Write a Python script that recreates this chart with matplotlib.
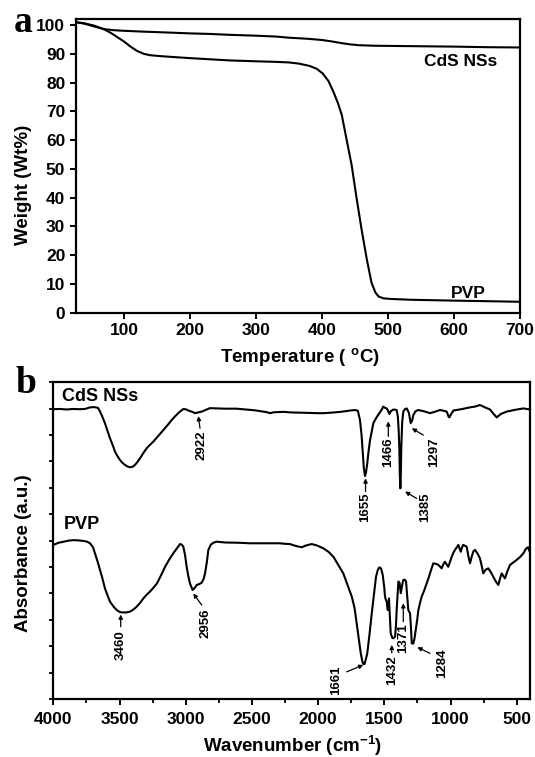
import matplotlib
matplotlib.use('Agg')
import matplotlib.pyplot as plt
from matplotlib.ticker import MultipleLocator, NullFormatter

plt.rcParams['font.family'] = ['Liberation Sans', 'DejaVu Sans']
plt.rcParams['mathtext.fontset'] = 'custom'
plt.rcParams['mathtext.rm'] = 'Liberation Sans'
plt.rcParams['mathtext.bf'] = 'Liberation Sans:bold'

# ---------------- TGA data (panel a) ----------------
tga_temp_cds = [27, 40, 55, 70, 85, 100, 130, 155, 200, 231, 260, 300, 330, 350,
                380, 400, 415, 430, 442, 455, 480, 520, 600, 650, 700]
tga_wt_cds = [101.0, 100.5, 99.5, 98.6, 98.2, 98.0, 97.7, 97.5, 97.1, 96.9, 96.6,
              96.3, 96.0, 95.6, 95.2, 94.8, 94.3, 93.7, 93.3, 93.0, 92.8, 92.7,
              92.5, 92.3, 92.2]

tga_temp_pvp = [27, 40, 55, 70, 80, 90, 100, 110, 120, 130, 140, 155, 180, 200, 230,
                260, 300, 330, 350, 365, 381, 392, 401, 410, 417, 424, 430, 437,
                445, 452, 460, 468, 475, 481, 486, 493, 503, 534, 600, 650, 700]
tga_wt_pvp = [101.0, 100.6, 99.8, 98.5, 97.3, 95.8, 94.3, 92.5, 91.0, 90.0, 89.5,
              89.2, 88.8, 88.5, 88.1, 87.7, 87.4, 87.2, 87.0, 86.6, 85.8, 84.8,
              83.2, 80.5, 77.0, 73.0, 68.8, 60.6, 51.3, 40.5, 29.0, 18.5, 10.5,
              7.0, 5.6, 5.0, 4.8, 4.5, 4.2, 4.0, 3.8]

tga_xticks = [100, 200, 300, 400, 500, 600, 700]
tga_yticks = [0, 10, 20, 30, 40, 50, 60, 70, 80, 90, 100]

# ---------------- FTIR data (panel b) ----------------
ftir_wn_cds = [4000, 3950, 3900, 3850, 3800, 3760, 3723, 3690, 3662, 3647, 3630, 3610,
               3590, 3572, 3550, 3534, 3515, 3497, 3478, 3459, 3440, 3421, 3400, 3383,
               3365, 3345, 3320, 3295, 3270, 3245, 3210, 3169, 3130, 3094, 3055, 3018,
               2995, 2980, 2950, 2930, 2905, 2879, 2850, 2817, 2750, 2700, 2615, 2550,
               2480, 2439, 2390, 2363, 2340, 2313, 2260, 2212, 2150, 2080, 2000, 1961,
               1900, 1830, 1759, 1720, 1700, 1684, 1672, 1663, 1655, 1646, 1638, 1629,
               1620, 1608, 1595, 1583, 1565, 1546, 1525, 1508, 1495, 1482, 1470, 1462,
               1452, 1432, 1420, 1407, 1398, 1392, 1387, 1383, 1379, 1375, 1372, 1365,
               1357, 1345, 1331, 1315, 1301, 1290, 1281, 1265, 1244, 1200, 1155, 1120,
               1080, 1050, 1029, 1015, 1009, 995, 979, 920, 853, 815, 778, 740, 702,
               675, 651, 620, 576, 520, 450, 400]
ftir_abs_cds = [10.98, 10.99, 10.97, 10.99, 10.98, 10.99, 11.05, 11.06, 11.03, 10.89,
                10.70, 10.45, 10.15, 9.88, 9.60, 9.37, 9.20, 9.06, 8.95, 8.87, 8.81,
                8.78, 8.80, 8.87, 8.98, 9.12, 9.32, 9.50, 9.63, 9.75, 9.95, 10.19,
                10.42, 10.64, 10.84, 10.99, 10.97, 10.93, 10.88, 10.83, 10.86, 10.89,
                10.95, 11.02, 11.01, 11.00, 11.00, 10.97, 10.94, 10.91, 10.87, 10.83,
                10.86, 10.87, 10.88, 10.86, 10.85, 10.84, 10.83, 10.83, 10.85, 10.88,
                10.93, 10.95, 10.92, 10.57, 10.00, 9.31, 8.75, 8.45, 8.60, 8.93, 9.35,
                9.81, 10.15, 10.45, 10.62, 10.77, 10.92, 11.08, 11.03, 11.01, 10.90,
                10.80, 10.90, 10.97, 10.96, 10.95, 10.70, 10.20, 9.56, 8.50, 7.98,
                8.60, 9.56, 10.50, 10.89, 10.98, 11.01, 10.85, 10.45, 10.55, 10.76,
                10.90, 10.95, 10.90, 10.83, 10.88, 10.95, 10.92, 10.89, 10.70, 10.67,
                10.80, 10.93, 10.98, 11.05, 11.08, 11.14, 11.05, 10.97, 10.80, 10.67,
                10.80, 10.89, 10.95, 11.01, 10.97]

ftir_wn_pvp = [4000, 3960, 3924, 3885, 3849, 3810, 3773, 3745, 3723, 3700, 3685, 3665,
               3647, 3628, 3610, 3590, 3572, 3545, 3521, 3500, 3483, 3450, 3421, 3395,
               3370, 3345, 3320, 3295, 3270, 3245, 3217, 3185, 3156, 3125, 3094, 3065,
               3043, 3030, 3018, 3005, 2993, 2980, 2968, 2948, 2930, 2917, 2895, 2879,
               2865, 2854, 2840, 2829, 2810, 2792, 2766, 2700, 2600, 2514, 2400, 2288,
               2250, 2212, 2170, 2124, 2090, 2049, 2010, 1961, 1920, 1885, 1850, 1810,
               1780, 1746, 1725, 1709, 1692, 1678, 1665, 1659, 1650, 1640, 1629, 1612,
               1595, 1578, 1563, 1550, 1538, 1525, 1512, 1500, 1495, 1488, 1482, 1477,
               1474, 1469, 1465, 1458, 1452, 1440, 1432, 1419, 1412, 1407, 1400, 1394,
               1385, 1376, 1366, 1357, 1346, 1336, 1327, 1319, 1306, 1300, 1293, 1281,
               1272, 1263, 1252, 1243, 1230, 1218, 1200, 1180, 1165, 1155, 1140, 1130,
               1110, 1092, 1067, 1055, 1042, 1030, 1017, 1004, 991, 978, 966, 953, 941,
               932, 923, 913, 904, 890, 878, 865, 853, 840, 827, 815, 795, 778, 765,
               753, 735, 715, 695, 677, 658, 639, 627, 614, 600, 589, 570, 551, 525,
               501, 475, 450, 430, 415, 400]
ftir_abs_pvp = [5.84, 5.92, 5.96, 6.00, 6.02, 6.01, 5.99, 5.96, 5.90, 5.75, 5.52, 5.20,
                4.89, 4.55, 4.19, 3.92, 3.69, 3.50, 3.37, 3.30, 3.28, 3.28, 3.31, 3.39,
                3.50, 3.64, 3.81, 3.95, 4.07, 4.21, 4.38, 4.70, 5.01, 5.28, 5.52, 5.72,
                5.87, 5.85, 5.77, 5.45, 5.01, 4.65, 4.38, 4.13, 4.22, 4.32, 4.36, 4.41,
                4.55, 4.76, 5.20, 5.65, 5.85, 5.92, 5.96, 5.93, 5.92, 5.90, 5.90, 5.90,
                5.88, 5.87, 5.80, 5.75, 5.82, 5.87, 5.82, 5.71, 5.57, 5.39, 5.10, 4.76,
                4.35, 3.88, 3.45, 2.87, 2.25, 1.73, 1.40, 1.33, 1.32, 1.50, 1.73, 2.45,
                3.25, 4.00, 4.63, 4.88, 4.99, 4.95, 4.70, 4.20, 3.88, 3.75, 3.69, 3.45,
                3.37, 3.60, 3.81, 3.10, 2.49, 2.32, 2.30, 2.36, 2.80, 3.37, 3.95, 4.45,
                4.40, 4.01, 4.30, 4.51, 4.52, 4.45, 3.90, 3.37, 3.25, 2.80, 2.11, 2.10,
                2.30, 2.61, 3.00, 3.37, 3.65, 3.88, 4.10, 4.38, 4.60, 4.76, 5.00, 5.14,
                5.12, 5.08, 4.95, 5.10, 5.20, 5.10, 5.01, 5.20, 5.39, 5.55, 5.65, 5.75,
                5.84, 5.70, 5.58, 5.75, 5.84, 5.80, 5.77, 5.40, 5.14, 5.40, 5.60, 5.65,
                5.50, 5.33, 5.05, 4.76, 4.90, 4.95, 4.80, 4.63, 4.45, 4.32, 4.55, 4.76,
                4.65, 4.57, 4.85, 5.08, 5.18, 5.27, 5.38, 5.52, 5.70, 5.75, 5.55]

ftir_xticks = [4000, 3500, 3000, 2500, 2000, 1500, 1000, 500]
ftir_xticklabels = ['4000', '3500', '3000', '2500', '2000', '1500', '1000', '500']

# peak annotations: label, text x, text y, arrow tail (x, y), arrow tip (x, y)
ann_labels = ['2922', '1655', '1466', '1385', '1297',
              '3460', '2956', '1661', '1432', '1371', '1284']
ann_text_x = [2879, 1642, 1470, 1191, 1123, 3491, 2854, 1862, 1444, 1357, 1067]
ann_text_y = [9.62, 7.28, 9.34, 7.28, 9.34, 2.05, 2.87, 0.72, 1.10, 2.30, 1.35]
ann_tail_x = [2892, 1642, 1470, 1256, 1206, 3491, 2879, 1784, 1444, 1357, 1155]
ann_tail_y = [10.26, 7.86, 9.95, 7.60, 10.00, 2.74, 3.56, 1.03, 1.75, 2.93, 1.73]
ann_tip_x = [2905, 1642, 1470, 1344, 1293, 3491, 2943, 1659, 1444, 1357, 1251]
ann_tip_y = [10.72, 8.36, 10.52, 7.86, 10.26, 3.20, 4.00, 1.29, 2.05, 3.63, 1.96]

W, H = 535, 757
fig = plt.figure(figsize=(W / 100, H / 100), dpi=100)

def box(l, t, r, b):
    return [l / W, 1 - b / H, (r - l) / W, (b - t) / H]

lw_spine = 1.6
lw_line = 1.5

# ---------------- panel a ----------------
ax1 = fig.add_axes(box(75.7, 19, 520, 312.7))
ax1.plot(tga_temp_cds, tga_wt_cds, color='black', lw=lw_line)
ax1.plot(tga_temp_pvp, tga_wt_pvp, color='black', lw=lw_line)
ax1.set_xlim(27, 700)
ax1.set_ylim(0, 102.1)
ax1.set_xticks(tga_xticks)
ax1.set_yticks(tga_yticks)
for s in ax1.spines.values():
    s.set_linewidth(lw_spine)
ax1.tick_params(direction='out', length=4.5, width=1.4, pad=3,
                labelsize=12.5, top=False, right=False)
for lab in ax1.get_xticklabels() + ax1.get_yticklabels():
    lab.set_fontweight('bold')
ax1.text(610, 87.3, 'CdS NSs', fontsize=12.5, fontweight='bold', ha='center', va='center')
ax1.text(622, 6.7, 'PVP', fontsize=12.5, fontweight='bold', ha='center', va='center')

fig.text(24 / W, 1 - 185 / H, 'Weight (Wt%)', rotation=90, fontsize=13.5,
         fontweight='bold', ha='center', va='center')
fig.text(300 / W, 1 - 358 / H, 'Temperature ( $^{\\mathbf{o}}$C)', fontsize=13.5,
         fontweight='bold', ha='center', va='center')
fig.text(14 / W, 1 - 32 / H, 'a', fontsize=27, fontweight='bold',
         family=['Liberation Serif', 'DejaVu Serif'], ha='left', va='baseline')

# ---------------- panel b ----------------
ax2 = fig.add_axes(box(53.3, 382.3, 530, 699))
ax2.plot(ftir_wn_cds, ftir_abs_cds, color='black', lw=lw_line)
ax2.plot(ftir_wn_pvp, ftir_abs_pvp, color='black', lw=lw_line)
ax2.set_xlim(4000, 400)
ax2.set_ylim(0, 12)
ax2.set_xticks(ftir_xticks)
ax2.set_xticklabels(ftir_xticklabels)
ax2.xaxis.set_minor_locator(MultipleLocator(250))
ax2.set_yticks(range(0, 13))
ax2.yaxis.set_major_formatter(NullFormatter())
for s in ax2.spines.values():
    s.set_linewidth(lw_spine)
ax2.tick_params(axis='x', which='major', direction='out', length=4.5, width=1.4,
                pad=4.5, labelsize=12.5, top=False)
ax2.tick_params(axis='x', which='minor', direction='out', length=2.8, width=1.3, top=False)
ax2.tick_params(axis='y', which='major', direction='out', length=3, width=1.3, right=False)
for lab in ax2.get_xticklabels():
    lab.set_fontweight('bold')

ax2.text(3937, 11.45, 'CdS NSs', fontsize=13, fontweight='bold', ha='left', va='center')
ax2.text(3924, 6.63, 'PVP', fontsize=13, fontweight='bold', ha='left', va='center')

for i, lab in enumerate(ann_labels):
    ax2.text(ann_text_x[i], ann_text_y[i], lab, rotation=90, fontsize=9.5,
             fontweight='bold', ha='center', va='center')
    ax2.annotate('', xy=(ann_tip_x[i], ann_tip_y[i]),
                 xytext=(ann_tail_x[i], ann_tail_y[i]),
                 arrowprops=dict(arrowstyle='-|>', lw=0.9, color='black',
                                 mutation_scale=6, shrinkA=0, shrinkB=0))

fig.text(24 / W, 1 - 553 / H, 'Absorbance (a.u.)', rotation=90, fontsize=13.5,
         fontweight='bold', ha='center', va='center')
fig.text(293 / W, 1 - 745.5 / H, 'Wavenumber (cm$^{\\mathbf{-1}}$)', fontsize=13.5,
         fontweight='bold', ha='center', va='center')
fig.text(15 / W, 1 - 393 / H, 'b', fontsize=27, fontweight='bold',
         family=['Liberation Serif', 'DejaVu Serif'], ha='left', va='baseline')

fig.savefig('out.png', dpi=100)
